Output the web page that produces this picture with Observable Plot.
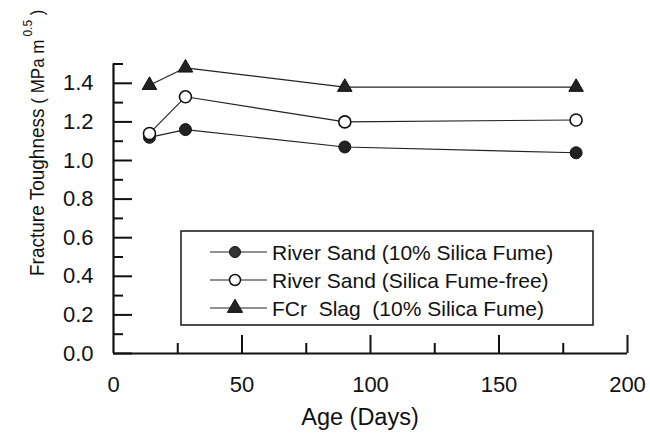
<!DOCTYPE html>
<html>
<head>
<meta charset="utf-8">
<script src="https://cdn.jsdelivr.net/npm/d3@7"></script>
<script src="https://cdn.jsdelivr.net/npm/@observablehq/plot@0.6"></script>
<style>
  html, body { margin: 0; padding: 0; background: #fff; }
</style>
</head>
<body>
<div id="chart"></div>
<script>
// ---- data ----
const days = [14, 28, 90, 180];
const riverSandSF = [1.12, 1.16, 1.07, 1.04];
const riverSandFree = [1.14, 1.33, 1.20, 1.21];
const fcrSlagSF = [1.39, 1.48, 1.38, 1.38];
const seriesNames = [
  "River Sand (10% Silica Fume)",
  "River Sand (Silica Fume-free)",
  "FCr  Slag  (10% Silica Fume)"
];
const xTickLabels = [0, 50, 100, 150, 200];
const xMajorTicks = [50, 100, 150, 200];
const xMinorTicks = [25, 75, 125, 175];
const yTickLabels = [0, 0.2, 0.4, 0.6, 0.8, 1.0, 1.2, 1.4];
const yMinorTicks = [0.1, 0.3, 0.5, 0.7, 0.9, 1.1, 1.3, 1.5];

const toRows = (vals) => days.map((d, i) => ({day: d, v: vals[i]}));
const s1 = toRows(riverSandSF), s2 = toRows(riverSandFree), s3 = toRows(fcrSlagSF);

const W = 650, H = 437;
const mL = 113, mR = 23, mT = 63.5, mB = 84;
const pxPerY = (H - mT - mB) / 1.5;
const pxPerX = (W - mL - mR) / 200;
const font = "'Liberation Sans', Arial, sans-serif";

const svg = Plot.plot({
  width: W, height: H,
  marginLeft: mL, marginRight: mR, marginTop: mT, marginBottom: mB,
  x: {domain: [0, 200]},
  y: {domain: [0, 1.5]},
  style: {fontFamily: font, fontSize: "22px", color: "#111", background: "#fff"},
  marks: [
    Plot.axisX({ticks: xTickLabels, tickSize: 0, tickPadding: 23, label: null, fontSize: 22}),
    Plot.axisY({ticks: yTickLabels, tickSize: 0, tickPadding: 20, label: null, fontSize: 22,
      tickFormat: d => d.toFixed(1)}),
    // tick marks (inward)
    Plot.ruleX(xMajorTicks, {x: d => d, y1: 0, y2: 18 / pxPerY, stroke: "#111", strokeWidth: 2}),
    Plot.ruleX(xMinorTicks, {x: d => d, y1: 0, y2: 10 / pxPerY, stroke: "#111", strokeWidth: 2}),
    Plot.ruleY(yTickLabels, {y: d => d, x1: 0, x2: 19 / pxPerX, stroke: "#111", strokeWidth: 2}),
    Plot.ruleY(yMinorTicks, {y: d => d, x1: 0, x2: 10 / pxPerX, stroke: "#111", strokeWidth: 2}),
    // axes lines
    Plot.ruleY([0], {x1: 0, x2: 200, stroke: "#111", strokeWidth: 2.2}),
    Plot.ruleX([0], {y1: 0, y2: 1.5, stroke: "#111", strokeWidth: 2.2}),
    // series
    Plot.line(s1, {x: "day", y: "v", stroke: "#222", strokeWidth: 1.1}),
    Plot.dot(s1, {x: "day", y: "v", r: 6, fill: "#222", stroke: "#111", strokeWidth: 1}),
    Plot.line(s2, {x: "day", y: "v", stroke: "#222", strokeWidth: 1.1}),
    Plot.dot(s2, {x: "day", y: "v", r: 6, fill: "#fff", stroke: "#111", strokeWidth: 1.6}),
    Plot.line(s3, {x: "day", y: "v", stroke: "#222", strokeWidth: 1.1}),
    Plot.dot(s3, {x: "day", y: "v", r: 5.4, symbol: "triangle", fill: "#222", stroke: "#111", strokeWidth: 1})
  ]
});

const g = d3.select(svg);

// y-axis title with superscript
const yt = g.append("text")
  .attr("transform", "translate(44,276) rotate(-90) scale(1,1.1)")
  .attr("text-anchor", "start")
  .attr("font-family", font)
  .attr("font-size", 19)
  .attr("fill", "#111")
  .attr("xml:space", "preserve").style("white-space", "pre");
yt.append("tspan").text("Fracture Toughness");
yt.append("tspan").attr("font-size", 17).text(" ( MPa m");
yt.append("tspan").attr("font-size", 12).attr("dx", 3).attr("dy", "-0.9em").text("0.5");
yt.append("tspan").attr("font-size", 17).attr("dy", "0.6em").text(" )");

// x-axis title
g.append("text")
  .attr("x", 360).attr("y", 425)
  .attr("text-anchor", "middle")
  .attr("font-family", font).attr("font-size", 23.5).attr("fill", "#111")
  .text("Age (Days)");

// legend
const lg = g.append("g");
lg.append("rect").attr("x", 181).attr("y", 231).attr("width", 412).attr("height", 94)
  .attr("fill", "#fff").attr("stroke", "#222").attr("stroke-width", 1.6);
const rowsY = [252, 280, 308];
seriesNames.forEach((name, i) => {
  const y = rowsY[i];
  lg.append("line").attr("x1", 210).attr("x2", 267).attr("y1", y).attr("y2", y)
    .attr("stroke", "#222").attr("stroke-width", 1.1);
  if (i === 0) {
    lg.append("circle").attr("cx", 235).attr("cy", y).attr("r", 5.5).attr("fill", "#333").attr("stroke", "#111");
  } else if (i === 1) {
    lg.append("circle").attr("cx", 235).attr("cy", y).attr("r", 5.5).attr("fill", "#fff").attr("stroke", "#111").attr("stroke-width", 1.5);
  } else {
    lg.append("path").attr("d", d3.symbol(d3.symbolTriangle, 100)()).attr("transform", `translate(235,${y})`)
      .attr("fill", "#222").attr("stroke", "#111");
  }
  lg.append("text").attr("x", 272).attr("y", y).attr("dy", "0.36em")
    .attr("text-anchor", "start")
    .attr("font-family", font).attr("font-size", 21).attr("fill", "#111")
    .attr("xml:space", "preserve").style("white-space", "pre")
    .text(name);
});

document.getElementById("chart").appendChild(svg);
</script>
</body>
</html>
